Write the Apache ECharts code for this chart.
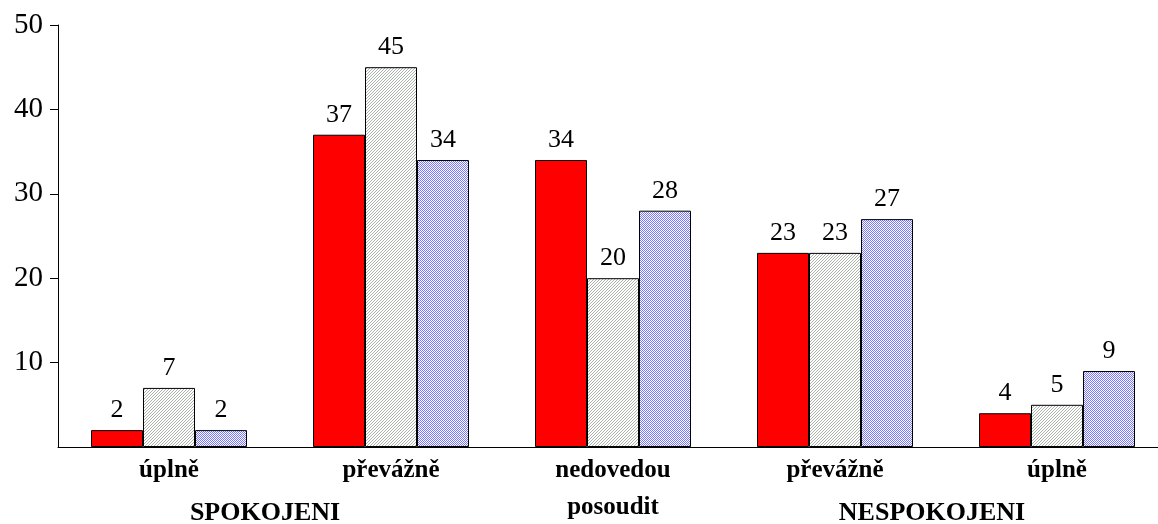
<!DOCTYPE html>
<html>
<head>
<meta charset="utf-8">
<script src="https://cdn.jsdelivr.net/npm/echarts@6/dist/echarts.min.js"></script>
<style>
html,body{margin:0;padding:0;background:#fff;}
#chart{width:1158px;height:524px;}
</style>
</head>
<body>
<div id="chart"></div>
<script>
var categories = ['úplně', 'převážně', 'nedovedou\nposoudit', 'převážně', 'úplně'];
var seriesRed = [2, 37, 34, 23, 4];
var seriesGray = [7, 45, 20, 23, 5];
var seriesBlue = [2, 34, 28, 27, 9];
var yTicks = [10, 20, 30, 40, 50];
var groupLabels = ['SPOKOJENI', 'NESPOKOJENI'];

function hatchPattern() {
  var c = document.createElement('canvas');
  c.width = 3; c.height = 3;
  var ctx = c.getContext('2d');
  ctx.fillStyle = '#ffffff';
  ctx.fillRect(0, 0, 3, 3);
  ctx.fillStyle = '#a9b3a9';
  for (var i = 0; i < 3; i++) {
    ctx.fillRect(i, 2 - i, 1, 1);
  }
  return c;
}
function checkPattern() {
  var c = document.createElement('canvas');
  c.width = 2; c.height = 2;
  var ctx = c.getContext('2d');
  ctx.fillStyle = '#ffffff';
  ctx.fillRect(0, 0, 2, 2);
  ctx.fillStyle = '#7777ff';
  ctx.fillRect(0, 0, 1, 1);
  ctx.fillRect(1, 1, 1, 1);
  return c;
}

var chart = echarts.init(document.getElementById('chart'), null, {renderer: 'canvas'});
var labelStyle = {
  show: true, position: 'top', distance: 7,
  fontFamily: 'Liberation Serif', fontSize: 26, color: '#000'
};
function mkSeries(name, data, color) {
  return {
    name: name, type: 'bar', data: data,
    barWidth: 52, barGap: '0%',
    itemStyle: {color: color, borderColor: '#000', borderWidth: 1},
    label: labelStyle,
    emphasis: {disabled: true}
  };
}
chart.setOption({
  animation: false,
  grid: {left: 58, top: 25, width: 1110, height: 422, containLabel: false, outerBoundsMode: 'none'},
  xAxis: {
    type: 'category', data: categories,
    axisLine: {show: true, lineStyle: {color: '#000', width: 1}},
    axisTick: {show: false},
    axisLabel: {
      fontFamily: 'Liberation Serif', fontSize: 25, fontWeight: 'bold',
      color: '#000', margin: 5, lineHeight: 37, interval: 0
    }
  },
  yAxis: {
    type: 'value', min: 0, max: 50, interval: 10,
    splitLine: {show: false},
    axisLine: {show: true, lineStyle: {color: '#000', width: 1}},
    axisTick: {show: true, length: 8, customValues: yTicks, lineStyle: {color: '#000'}},
    axisLabel: {
      customValues: yTicks,
      fontFamily: 'Liberation Serif', fontSize: 29, color: '#000', margin: 15
    }
  },
  series: [
    mkSeries('a', seriesRed, '#ff0000'),
    mkSeries('b', seriesGray, {image: hatchPattern(), repeat: 'repeat'}),
    mkSeries('c', seriesBlue, {image: checkPattern(), repeat: 'repeat'})
  ],
  graphic: [
    {type: 'text', x: 265, y: 513, style: {text: groupLabels[0], font: 'bold 26px "Liberation Serif"', fill: '#000', align: 'center', verticalAlign: 'middle'}},
    {type: 'text', x: 932, y: 513, style: {text: groupLabels[1], font: 'bold 26px "Liberation Serif"', fill: '#000', align: 'center', verticalAlign: 'middle'}}
  ]
});
</script>
</body>
</html>
